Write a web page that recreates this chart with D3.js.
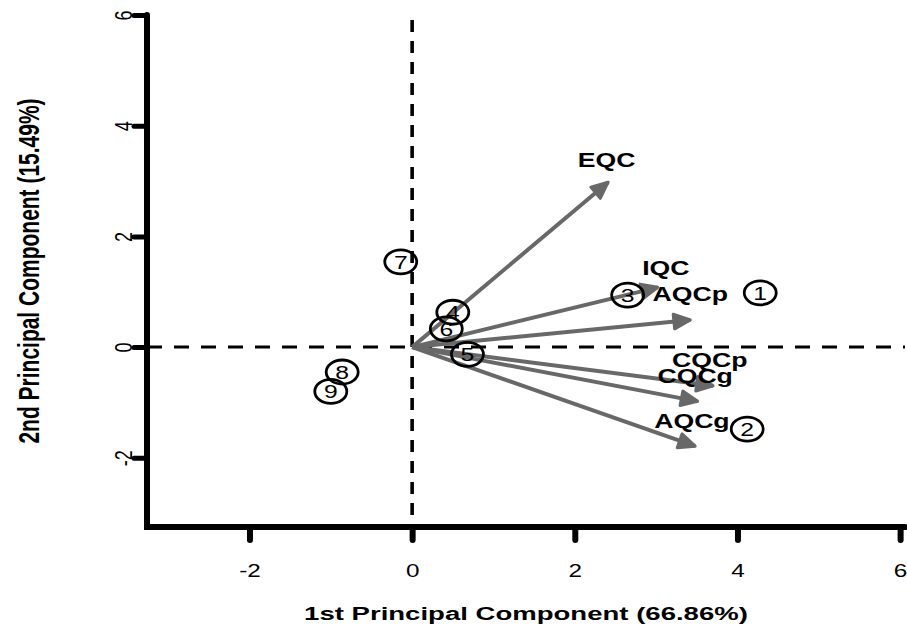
<!DOCTYPE html>
<html>
<head>
<meta charset="utf-8">
<script src="https://cdn.jsdelivr.net/npm/d3@7"></script>
<style>
  body { margin: 0; background: white; }
  text { font-family: "Liberation Sans", Arial, Helvetica, sans-serif; }
</style>
</head>
<body>
<div id="chart"></div>
<script>
// data

// variable loadings (arrows)
var vars = ["EQC", "IQC", "AQCp", "CQCp", "CQCg", "AQCg"];
var varX = [2.41, 3.02, 3.42, 3.70, 3.51, 3.48];
var varY = [2.98, 1.08, 0.49, -0.70, -0.98, -1.79];
// where the variable names sit
var labX = [2.39, 3.12, 3.42, 3.66, 3.48, 3.44];
var labY = [3.38, 1.44, 0.97, -0.23, -0.52, -1.33];

// sample scores (circled numbers)
var ids = ["1", "2", "3", "4", "5", "6", "7", "8", "9"];
var pc1 = [4.28, 4.12, 2.65, 0.50, 0.68, 0.42, -0.14, -0.86, -1.00];
var pc2 = [0.98, -1.48, 0.94, 0.63, -0.13, 0.33, 1.54, -0.45, -0.80];

var xTicks = [-2, 0, 2, 4, 6];
var yTicks = [-2, 0, 2, 4, 6];
var xTitle = "1st Principal Component (66.86%)";
var yTitle = "2nd Principal Component (15.49%)";

width = 907;
height = 630;

var svg = d3.select("#chart")
    .append("svg")
    .attr("width", width)
    .attr("height", height)
    .style("background", "white");

// plot region (window.top is taken, so prefixed names)
var pLeft = 147, pRight = 905, pTop = 15, pBottom = 527;

var x = d3.scaleLinear().domain([-3.26, 6.06]).range([pLeft, pRight]);
var y = d3.scaleLinear().domain([-3.25, 6]).range([pBottom, pTop]);

// the picture is stretched sideways, so text is too
var stretch = 1.35;

// dashed reference lines
svg.append("line")
    .attr("x1", pLeft).attr("x2", pRight)
    .attr("y1", y(0)).attr("y2", y(0))
    .attr("stroke", "black").attr("stroke-width", 3)
    .attr("stroke-dasharray", "15,12");
svg.append("line")
    .attr("x1", x(0)).attr("x2", x(0))
    .attr("y1", pTop + 5).attr("y2", pBottom)
    .attr("stroke", "black").attr("stroke-width", 3.6)
    .attr("stroke-dasharray", "12,9");

// axes
var xAxis = svg.append("g")
    .attr("transform", `translate(0,${pBottom})`)
    .call(d3.axisBottom(x).tickValues(xTicks).tickSize(13).tickSizeOuter(0).tickFormat(d3.format("d")));
xAxis.select(".domain").remove();
xAxis.selectAll(".tick line")
    .attr("stroke", "black").attr("stroke-width", 6).attr("stroke-linecap", "round");
xAxis.selectAll(".tick text")
    .attr("y", 0).attr("dy", 0)
    .attr("transform", `translate(0,50) scale(${stretch},1)`)
    .attr("font-size", 18)
    .attr("fill", "black")
    .text(d => d < 0 ? "-" + Math.abs(d) : d);

var yAxis = svg.append("g")
    .attr("transform", `translate(${pLeft},0)`)
    .call(d3.axisLeft(y).tickValues(yTicks).tickSize(13).tickSizeOuter(0).tickFormat(d3.format("d")));
yAxis.select(".domain").remove();
yAxis.selectAll(".tick line")
    .attr("stroke", "black").attr("stroke-width", 5).attr("stroke-linecap", "round");
yAxis.selectAll(".tick text")
    .attr("x", 0).attr("y", 0).attr("dy", 0)
    .attr("text-anchor", "middle")
    .attr("transform", `translate(-15,0) scale(${stretch},1) rotate(-90)`)
    .attr("font-size", 18)
    .attr("fill", "black")
    .text(d => d < 0 ? "-" + Math.abs(d) : d);

// L-shaped frame
svg.append("path")
    .attr("d", `M${pLeft},${pTop} L${pLeft},${pBottom} L${pRight},${pBottom}`)
    .attr("fill", "none")
    .attr("stroke", "black")
    .attr("stroke-width", 6)
    .attr("stroke-linecap", "round")
    .attr("stroke-linejoin", "miter");

// axis titles
svg.append("text")
    .attr("transform", `translate(${(pLeft + pRight) / 2},${620}) scale(1.45,1)`)
    .attr("text-anchor", "middle")
    .attr("font-size", 19)
    .attr("font-weight", "bold")
    .text(xTitle);

svg.append("text")
    .attr("transform", `translate(39,${(pTop + pBottom) / 2}) scale(1.4,1) rotate(-90)`)
    .attr("text-anchor", "middle")
    .attr("font-size", 21)
    .attr("font-weight", "bold")
    .text(yTitle);

// loading arrows
var arrows = vars.map((v, i) => ({name: v, x: varX[i], y: varY[i], lx: labX[i], ly: labY[i]}));
var ag = svg.append("g").attr("id", "arrows");
var grey = "#686868";
ag.selectAll("line")
    .data(arrows)
    .join("line")
    .attr("x1", x(0)).attr("y1", y(0))
    .attr("x2", d => x(d.x)).attr("y2", d => y(d.y))
    .attr("stroke", grey)
    .attr("stroke-width", 4);

function head(d) {
    var x0 = x(0), y0 = y(0), x1 = x(d.x), y1 = y(d.y);
    var a = Math.atan2(y1 - y0, x1 - x0);
    var len = 18, ang = 24 * Math.PI / 180;
    var p1 = [x1 - len * Math.cos(a - ang), y1 - len * Math.sin(a - ang)];
    var p2 = [x1 - len * Math.cos(a + ang), y1 - len * Math.sin(a + ang)];
    return `M${p1[0]},${p1[1]} L${x1},${y1} L${p2[0]},${p2[1]} Z`;
}
ag.selectAll("path")
    .data(arrows)
    .join("path")
    .attr("d", head)
    .attr("fill", grey)
    .attr("stroke", grey)
    .attr("stroke-width", 3)
    .attr("stroke-linejoin", "round");

ag.selectAll("text")
    .data(arrows)
    .join("text")
    .attr("transform", d => `translate(${x(d.lx)},${y(d.ly)}) scale(1.3,1)`)
    .attr("text-anchor", "middle")
    .attr("dy", "0.36em")
    .attr("font-size", 20.5)
    .attr("font-weight", "bold")
    .text(d => d.name);

// sample points, on top of the arrows
var pts = ids.map((id, i) => ({id: id, x: pc1[i], y: pc2[i]}));
var pg = svg.append("g").attr("id", "points");
pg.selectAll("ellipse")
    .data(pts)
    .join("ellipse")
    .attr("cx", d => x(d.x))
    .attr("cy", d => y(d.y))
    .attr("rx", 16)
    .attr("ry", 12)
    .attr("fill", "none")
    .attr("stroke", "black")
    .attr("stroke-width", 2.8);
pg.selectAll("text")
    .data(pts)
    .join("text")
    .attr("transform", d => `translate(${x(d.x)},${y(d.y)}) scale(1.3,1)`)
    .attr("text-anchor", "middle")
    .attr("dy", "0.36em")
    .attr("font-size", 19)
    .text(d => d.id);
</script>
</body>
</html>
